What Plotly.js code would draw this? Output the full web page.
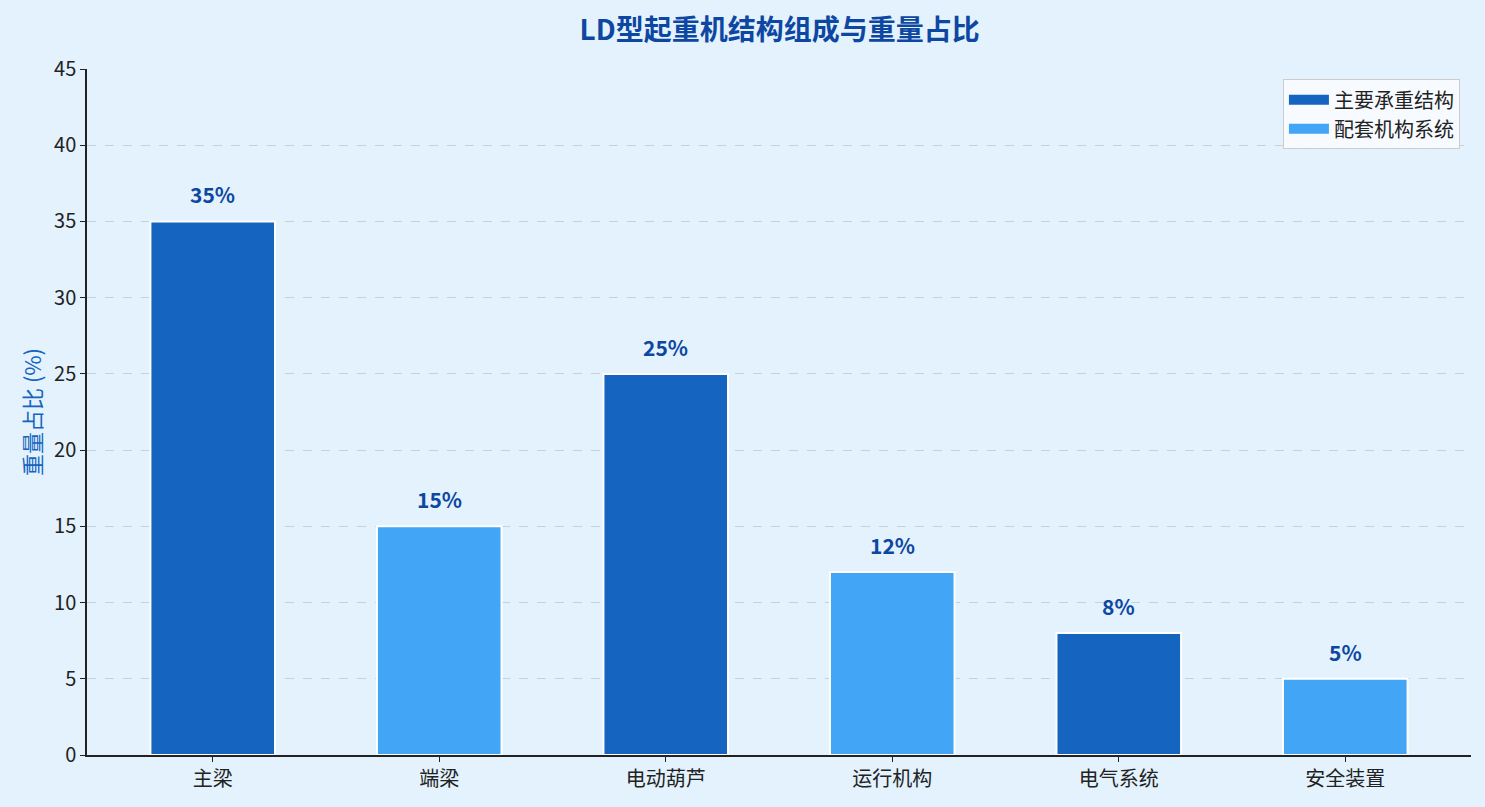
<!DOCTYPE html>
<html>
<head>
<meta charset="utf-8">
<script src="https://cdn.plot.ly/plotly-3.0.1.min.js"></script>
<style>
  html, body { margin: 0; padding: 0; background: #E3F2FD; }
  #plot { width: 1485px; height: 807px; }
</style>
</head>
<body>
<div id="plot"></div>
<script>
const categories = ["主梁", "端梁", "电动葫芦", "运行机构", "电气系统", "安全装置"];
const weights = [35, 15, 25, 12, 8, 5];
const groups = ["主要承重结构", "配套机构系统", "主要承重结构", "配套机构系统", "主要承重结构", "配套机构系统"];
const groupNames = ["主要承重结构", "配套机构系统"];
const groupColors = ["#1565C0", "#42A5F5"];
const yTicks = [0, 5, 10, 15, 20, 25, 30, 35, 40, 45];

const font = "'Microsoft YaHei', 'Noto Sans CJK SC', sans-serif";

const bars = groupNames.map((name, g) => {
    const idx = categories.map((c, i) => i).filter(i => groups[i] === name);
    return {
        type: "bar",
        name: name,
        x: idx.map(i => categories[i]),
        y: idx.map(i => weights[i]),
        width: 0.55,
        marker: {color: groupColors[g], line: {color: "#ffffff", width: 2}},
        showlegend: false,
        hoverinfo: "x+y"
    };
});

// legend entries drawn as thick lines so the swatch is a wide rectangle
const legendItems = groupNames.map((name, g) => ({
    type: "scatter",
    mode: "lines",
    name: name,
    x: [null],
    y: [null],
    line: {color: groupColors[g], width: 15},
    hoverinfo: "skip"
}));

// value labels above each bar
const labels = categories.map((c, i) => ({
    x: c,
    y: weights[i],
    text: weights[i] + "%",
    showarrow: false,
    yanchor: "bottom",
    yshift: 10,
    font: {family: font, size: 21, color: "#0D47A1", weight: "bold"}
}));

Plotly.newPlot("plot", bars.concat(legendItems), {
    width: 1485,
    height: 807,
    paper_bgcolor: "#E3F2FD",
    plot_bgcolor: "#E3F2FD",
    font: {family: font, color: "#222222"},
    barmode: "overlay",
    margin: {l: 87, r: 14, t: 69, b: 52},
    title: {
        text: "LD型起重机结构组成与重量占比",
        x: 0.525,
        xanchor: "center",
        y: 0.963,
        yanchor: "middle",
        font: {family: font, size: 28, color: "#0D47A1", weight: "bold"}
    },
    xaxis: {
        type: "category",
        categoryorder: "array",
        categoryarray: categories,
        range: [-0.555, 5.555],
        showline: true,
        linecolor: "#222222",
        linewidth: 1.5,
        ticks: "outside",
        ticklen: 5,
        tickcolor: "#222222",
        tickfont: {family: font, size: 20, color: "#222222"},
        showgrid: false,
        zeroline: false
    },
    yaxis: {
        range: [0, 45],
        tickvals: yTicks,
        showline: true,
        linecolor: "#222222",
        linewidth: 1.5,
        ticks: "outside",
        ticklen: 5,
        tickcolor: "#222222",
        tickfont: {family: font, size: 20, color: "#222222"},
        showgrid: true,
        gridcolor: "#C5D2DC",
        griddash: "dash",
        gridwidth: 1,
        zeroline: false,
        title: {text: "重量占比 (%)", standoff: 6, font: {family: font, size: 22, color: "#1565C0"}}
    },
    legend: {
        x: 0.992,
        y: 0.985,
        xanchor: "right",
        yanchor: "top",
        bgcolor: "rgba(248,251,255,0.9)",
        bordercolor: "#CCCCCC",
        borderwidth: 1,
        font: {family: font, size: 20, color: "#222222"},
        itemwidth: 40,
        tracegroupgap: 2
    },
    annotations: labels,
    showlegend: true
}, {displayModeBar: false});
</script>
</body>
</html>
